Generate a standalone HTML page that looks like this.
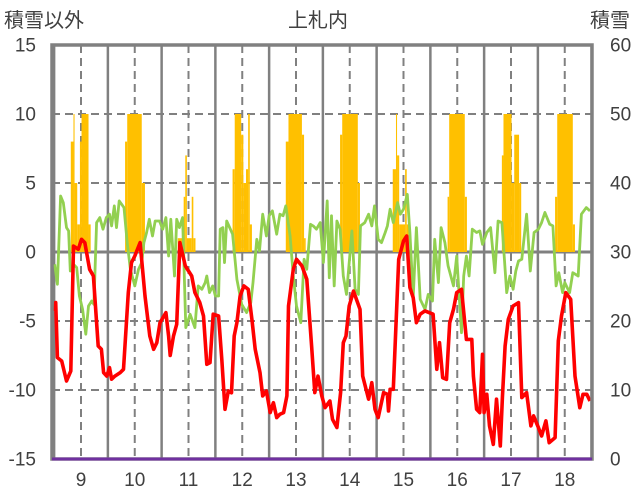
<!DOCTYPE html>
<html><head><meta charset="utf-8"><style>
html,body{margin:0;padding:0;background:#fff;}
svg{display:block;font-family:"Liberation Sans","Noto Sans CJK JP",sans-serif;}
</style></head><body>
<svg id="chart" width="636" height="501" viewBox="0 0 636 501" xmlns="http://www.w3.org/2000/svg">
<text x="4" y="27" font-size="20" fill="#404040">積雪以外</text>
<text x="318" y="27" font-size="20" fill="#404040" text-anchor="middle">上札内</text>
<text x="630" y="27" font-size="20" fill="#404040" text-anchor="end">積雪</text>
<g id="grid"></g>
<g id="bars"></g>
<g id="lines"></g>
<g id="axes"></g>
</svg>
<script>
const years=[9,10,11,12,13,14,15,16,17,18];
const leftTicks=[15,10,5,0,-5,-10,-15];
const rightTicks=[60,50,40,30,20,10,0];
const redT=[8.52,8.53,8.56,8.64,8.73,8.81,8.86,8.95,9.01,9.07,9.16,9.23,9.32,9.38,9.42,9.48,9.53,9.57,9.63,9.73,9.79,9.88,9.94,10.0,10.10,10.19,10.28,10.35,10.41,10.47,10.58,10.63,10.66,10.72,10.78,10.84,10.94,11.06,11.12,11.21,11.28,11.34,11.40,11.46,11.56,11.62,11.68,11.74,11.80,11.85,11.90,11.96,12.03,12.11,12.18,12.24,12.33,12.38,12.45,12.52,12.58,12.64,12.70,12.77,12.83,12.86,12.95,13.01,13.11,13.20,13.29,13.35,13.41,13.48,13.54,13.63,13.68,13.76,13.83,13.88,13.93,13.99,14.07,14.19,14.24,14.35,14.41,14.47,14.53,14.63,14.70,14.72,14.75,14.81,14.91,15.00,15.06,15.12,15.18,15.24,15.31,15.40,15.55,15.62,15.67,15.73,15.80,15.86,15.93,15.99,16.08,16.17,16.27,16.30,16.36,16.42,16.47,16.50,16.55,16.60,16.67,16.73,16.80,16.84,16.89,16.95,17.04,17.14,17.20,17.29,17.37,17.42,17.51,17.57,17.65,17.71,17.82,17.88,17.94,18.02,18.11,18.19,18.28,18.34,18.41,18.47];
const redV=[-4.28,-3.67,-7.65,-7.9,-9.35,-8.62,0.43,0.2,0.92,0.68,-1.25,-1.74,-6.81,-7.05,-8.74,-8.99,-8.38,-9.22,-8.99,-8.74,-8.5,-2.94,-0.77,-0.29,0.68,-3.19,-6.09,-7.05,-6.57,-5.12,-4.39,-6.09,-7.5,-6.09,-5.24,0.68,-1.01,-1.74,-2.94,-3.67,-4.64,-8.14,-8.02,-4.51,-4.64,-7.78,-11.4,-10.07,-10.2,-6.09,-5.12,-3.19,-2.46,-2.7,-4.88,-7.05,-8.74,-10.43,-10.07,-11.64,-10.92,-12,-11.76,-11.64,-10.43,-3.91,-1.25,-0.53,-1.01,-1.98,-6.81,-10.19,-8.99,-10.43,-11.28,-10.8,-12.12,-12.72,-10.19,-6.57,-6.09,-3.91,-2.83,-4.15,-8.99,-10.67,-9.47,-11.4,-12,-10.19,-10.31,-11.52,-9.95,-9.95,-0.53,0.8,1.16,-2.58,-3.31,-5.12,-4.51,-4.27,-4.51,-8.5,-6.57,-9.11,-9.23,-5.12,-4.15,-2.94,-2.7,-6.33,-6.33,-8.99,-11.4,-11.64,-7.41,-11.64,-10.31,-12.6,-13.94,-10.67,-14.06,-10.55,-6.81,-4.88,-3.91,-3.67,-10.55,-10.19,-12.6,-11.88,-12.72,-13.33,-12.24,-13.82,-13.45,-6.45,-4.64,-2.94,-3.43,-8.99,-11.28,-10.31,-10.31,-10.8];
const greenT=[8.51,8.56,8.62,8.67,8.73,8.77,8.80,8.86,8.92,8.97,9.03,9.09,9.14,9.20,9.24,9.29,9.35,9.41,9.47,9.53,9.57,9.62,9.66,9.71,9.80,9.86,9.92,10.0,10.07,10.13,10.17,10.22,10.27,10.33,10.38,10.46,10.52,10.58,10.63,10.67,10.74,10.78,10.83,10.89,10.95,11.03,11.12,11.18,11.25,11.31,11.34,11.39,11.45,11.50,11.56,11.59,11.64,11.67,11.71,11.82,11.90,11.99,12.08,12.16,12.20,12.27,12.32,12.38,12.45,12.50,12.56,12.64,12.70,12.76,12.81,12.89,12.95,13.01,13.09,13.15,13.20,13.27,13.32,13.38,13.45,13.51,13.58,13.62,13.66,13.71,13.76,13.82,13.88,13.94,14.04,14.10,14.16,14.20,14.28,14.35,14.41,14.46,14.53,14.59,14.66,14.70,14.75,14.81,14.89,14.94,15.00,15.07,15.12,15.18,15.24,15.31,15.40,15.46,15.54,15.58,15.65,15.70,15.77,15.83,15.93,15.99,16.08,16.12,16.17,16.22,16.28,16.36,16.42,16.47,16.55,16.62,16.70,16.76,16.83,16.92,16.98,17.04,17.09,17.14,17.20,17.29,17.36,17.43,17.51,17.57,17.63,17.72,17.78,17.84,17.89,17.96,18.00,18.09,18.15,18.25,18.31,18.40,18.47];
const greenV=[-0.89,-2.34,4.06,3.58,1.77,1.53,-1.38,-0.89,-1.13,-3.19,-4.15,-5.96,-3.91,-3.55,-3.79,2.13,2.49,1.65,2.49,2.74,1.89,3.34,1.77,3.7,3.22,0.68,-1.25,-2.46,-1.25,-0.77,0.68,1.41,2.37,1.16,2.25,2.25,1.65,2.49,-0.29,2.37,-1.74,2.37,1.77,2.49,-5.48,-4.51,-5.48,-2.46,-2.7,-2.22,-1.74,-2.94,-2.46,-3.19,-3.19,1.65,1.77,-0.77,2.25,1.29,-1.98,-3.79,-4.39,-3.67,-2.22,0.92,0.08,2.74,1.16,2.62,2.98,1.29,2.74,2.62,3.34,1.16,-1.74,-3.91,-5.12,-0.53,-1.25,2.01,1.89,1.65,2.13,-0.77,3.7,-1.86,2.62,-2.46,2.25,1.65,-1.74,-3.07,1.53,-2.7,-3.07,1.89,2.13,2.74,1.89,3.34,0.92,0.68,1.41,1.89,3.1,2.13,3.58,2.74,3.1,4.18,1.41,-3.31,1.77,-3.43,-4.15,-3.07,-3.55,0.92,-2.22,1.77,0.68,-1.01,-2.46,-0.29,-5.85,-1.74,-0.29,-1.74,1.65,1.41,1.53,0.56,1.41,1.77,-1.5,2.25,2.13,-2.94,-1.74,-2.7,-1.38,-0.65,-0.53,2.74,-1.38,1.41,1.65,2.13,2.86,2.01,1.89,-2.46,-1.5,-2.94,-2.22,-2.94,-1.5,-1.74,2.74,3.22,2.98];
const snowStart=[8.81,8.86,8.88,8.93,8.98,9.01,9.14,9.82,9.86,10.13,10.80,10.91,10.94,10.97,11.06,11.09,11.82,11.86,11.98,12.02,12.07,12.11,12.14,12.81,12.86,13.11,13.15,13.82,13.86,14.15,14.80,14.86,14.88,14.92,15.03,15.06,15.82,15.85,16.14,16.83,16.86,17.01,17.06,17.15,17.82,17.86,18.15];
const snowEnd=[8.86,8.88,8.93,8.98,9.01,9.14,9.18,9.86,10.13,10.19,10.91,10.94,10.97,11.06,11.09,11.13,11.86,11.98,12.02,12.07,12.11,12.14,12.18,12.86,13.11,13.15,13.18,13.86,14.15,14.19,14.86,14.88,14.92,15.03,15.06,15.10,15.85,16.14,16.18,16.86,17.01,17.06,17.15,17.19,17.86,18.15,18.19];
const snowDepth=[46,50,40,34,46,50,34,46,50,40,32,38,44,32,38,32,42,50,47,40,42,50,34,46,50,47,32,47,50,40,42,50,44,34,42,34,38,50,38,44,50,40,47,40,38,50,34];

const L=52,R=592,T=45,B=459;
const NS='http://www.w3.org/2000/svg';
const xS=t=>81+(t-9)*53.75;
const yL=v=>B-(v+15)/30*(B-T);
const yR=s=>B-s/60*(B-T);
function mk(tag,attrs,parent){const e=document.createElementNS(NS,tag);for(const k in attrs)e.setAttribute(k,attrs[k]);parent.appendChild(e);return e;}
const grid=document.getElementById('grid'),bars=document.getElementById('bars'),lines=document.getElementById('lines'),axes=document.getElementById('axes');
leftTicks.forEach(v=>{
  if(v===15||v===-15)return;
  const g=mk('line',{x1:L,x2:R,y1:yL(v),y2:yL(v),stroke:'#808080','stroke-width':v===0?3:2,'stroke-dasharray':v===0?'none':'8,5'},grid);
  
  
});
years.forEach(yr=>{
  const g=mk('line',{x1:xS(yr),x2:xS(yr),y1:T,y2:B,stroke:'#808080','stroke-width':2,'stroke-dasharray':'8,5'},grid);
  
  
  const h=mk('line',{x1:xS(yr+0.5),x2:xS(yr+0.5),y1:T,y2:B,stroke:'#808080','stroke-width':2.5},grid);
  
  
  if(yr===9){const h2=mk('line',{x1:xS(8.5),x2:xS(8.5),y1:T,y2:B,stroke:'#808080','stroke-width':2.5},grid);
  
  }
});
snowDepth.forEach((s,i)=>{
  const x0=xS(snowStart[i]),x1=xS(snowEnd[i]);
  const r=mk('rect',{x:x0,y:yR(s),width:Math.max(x1-x0,1),height:yR(30)-yR(s),fill:'#FFC000'},bars);
  
  
});
const gp=mk('polyline',{points:greenT.map((t,i)=>xS(t).toFixed(1)+','+yL(greenV[i]).toFixed(1)).join(' '),fill:'none',stroke:'#92D050','stroke-width':2.8,'stroke-linejoin':'round'},lines);


const rp=mk('polyline',{points:redT.map((t,i)=>xS(t).toFixed(1)+','+yL(redV[i]).toFixed(1)).join(' '),fill:'none',stroke:'#FF0000','stroke-width':3.6,'stroke-linejoin':'round'},lines);


const fr=mk('rect',{x:L,y:T,width:R-L,height:B-T,fill:'none',stroke:'#808080','stroke-width':3.5},axes);


const pl=mk('line',{x1:L,x2:R,y1:B,y2:B,stroke:'#7030A0','stroke-width':3},axes);


leftTicks.forEach(v=>{
  const t=mk('text',{x:36,y:yL(v)+6.5,'font-size':19,fill:'#404040','text-anchor':'end'},axes);t.textContent=v;
  
  
});
rightTicks.forEach(s=>{
  const t=mk('text',{x:610,y:yR(s)+6.5,'font-size':19,fill:'#404040'},axes);t.textContent=s;
  
  
});
years.forEach(yr=>{
  const t=mk('text',{x:xS(yr),y:486,'font-size':19,fill:'#404040','text-anchor':'middle'},axes);t.textContent=yr;
  
  
});
</script>
</body></html>
